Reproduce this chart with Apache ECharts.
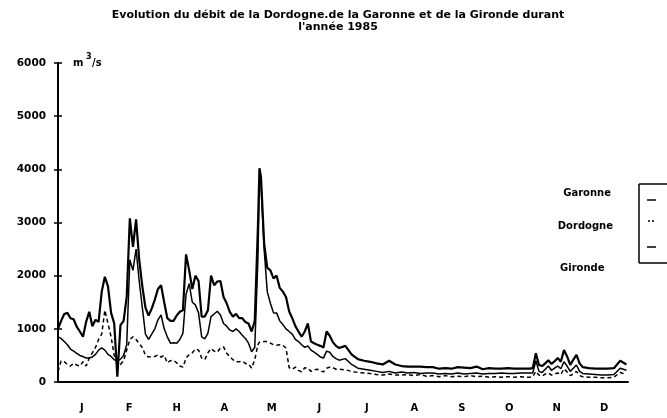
<!DOCTYPE html>
<html>
<head>
<meta charset="utf-8">
<script src="https://cdn.jsdelivr.net/npm/echarts@6/dist/echarts.min.js"></script>
<style>
  html, body { margin: 0; padding: 0; background: #fff; }
  #chart { width: 667px; height: 418px; }
</style>
</head>
<body>
<div id="chart"></div>
<script>
// jour de l'année (0 = 1er janvier)
var days = [
  0, 2, 4, 6, 8, 10, 12, 14, 16, 18, 20, 22, 24, 26, 28, 30,
  32, 34, 36, 38, 40, 42, 44, 46, 48, 50, 52, 54, 56, 58,
  60, 62, 64, 66, 68, 70, 72, 74, 76, 78, 80, 82, 84, 86, 88, 90,
  92, 94, 96, 98, 100, 102, 104, 106, 108, 110, 112, 114, 116, 118, 120, 122, 124, 126, 128,
  129,
  130, 132, 134, 136, 138, 140, 142, 144, 146, 148, 150, 152, 154, 156, 158, 160, 162, 164, 166, 168, 170, 172, 174, 176, 178, 180,
  184, 188, 192, 196, 200, 204, 208, 212, 216, 220, 224, 228, 232, 236, 240, 244, 248, 252, 256, 260, 264, 268, 272, 276, 280, 284, 288, 292, 296, 300,
  302, 304, 306, 308, 310, 312, 314, 316, 318, 320, 322, 324, 326, 328, 330, 332, 334, 336,
  340, 344, 348, 352, 356, 360, 364
];

// débits en m3/s
var gironde = [
  1000, 1150, 1280, 1300, 1200, 1180, 1040, 950, 850, 1130, 1320, 1050, 1170, 1130, 1700, 1980,
  1800, 1300, 1100, 100, 1070, 1150, 1600, 3080, 2540, 3060, 2300, 1800, 1400, 1250,
  1380, 1550, 1750, 1820, 1500, 1200, 1150, 1150, 1250, 1320, 1350, 2400, 2100, 1750, 2000, 1900,
  1230, 1230, 1350, 2000, 1820, 1890, 1900, 1600, 1480, 1320, 1230, 1280, 1200, 1200, 1130, 1100, 950, 1150, 2900,
  4020,
  3850, 2600, 2150, 2100, 1950, 2000, 1770, 1700, 1600, 1330, 1200, 1050, 950, 850, 950, 1100, 760, 730, 700, 680, 650, 950, 870, 750, 680, 640,
  680, 520, 430, 400, 380, 350, 330, 400, 330, 300, 290, 290, 290, 280, 280, 250, 260, 250, 280, 270, 260, 290, 240, 260, 250, 250, 260, 250, 250, 250,
  250, 260, 540, 320, 300, 350, 410, 340, 390, 450, 380, 600, 480, 320, 420, 510, 350, 280,
  260, 250, 250, 250, 260, 400, 330
];

var garonne = [
  850, 820, 760, 700, 620, 580, 540, 500, 480, 450, 450, 470, 520, 600, 640, 600,
  520, 480, 420, 400, 430, 500, 700, 2300, 2100, 2500, 1900, 1400, 900, 800,
  900, 1000, 1170, 1260, 1000, 850, 730, 740, 730, 800, 920, 1650, 1850, 1500, 1450, 1300,
  850, 810, 920, 1230, 1280, 1330, 1260, 1100, 1050, 980, 950, 1000, 950, 880, 820, 730, 570, 650, 2300,
  3860,
  3700, 2500, 1700, 1480, 1300, 1300, 1150, 1080, 1000, 950, 900, 800, 760, 700, 650, 680, 600, 560, 520, 470, 450, 580, 560, 480, 440, 410,
  440, 330, 260, 240, 220, 200, 180, 200, 170, 190, 170, 180, 160, 170, 170, 150, 160, 150, 170, 150, 160, 170, 150, 160, 160, 170, 160, 160, 170, 170,
  170, 170, 400, 200, 180, 240, 300, 220, 260, 300, 250, 380, 300, 200, 260, 320, 200, 160,
  150, 140, 130, 130, 140, 260, 220
];

var dordogne = [
  200, 400, 380, 330, 300, 350, 320, 300, 380, 300, 450, 550, 650, 800, 900, 1350,
  1100, 850, 500, 350, 330, 400, 600, 800, 850, 800, 720, 650, 500, 470,
  480, 480, 510, 470, 500, 360, 400, 410, 360, 300, 280, 450, 520, 550, 620, 600,
  450, 420, 550, 630, 580, 560, 640, 660, 540, 480, 420, 380, 380, 390, 350, 340, 260, 420, 700,
  750,
  760, 760, 760, 730, 700, 690, 700, 690, 640, 270, 240, 280, 220, 190, 270, 260, 200, 230, 240, 210, 190, 260, 280, 270, 240, 240,
  230, 200, 180, 170, 160, 140, 130, 150, 130, 130, 140, 120, 140, 110, 120, 100, 120, 100, 110, 100, 120, 100, 110, 90, 100, 90, 100, 90, 100, 90,
  90, 100, 200, 130, 110, 150, 170, 130, 150, 170, 140, 250, 190, 120, 150, 200, 120, 100,
  90, 90, 80, 80, 90, 180, 140
];

var months = ['J', 'F', 'H', 'A', 'M', 'J', 'J', 'A', 'S', 'O', 'N', 'D'];

function pairs(vals) {
  return days.map(function (d, i) { return [d, vals[i]]; });
}

var font = 'DejaVu Sans';
var chart = echarts.init(document.getElementById('chart'));

var option = {
  backgroundColor: '#fff',
  animation: false,
  title: {
    text: "Evolution du débit de la Dordogne.de la Garonne et de la Gironde durant\nl'année 1985",
    left: 333,
    top: 4,
    textAlign: 'center',
    textStyle: { fontFamily: font, fontSize: 11, fontWeight: 'bold', color: '#000', lineHeight: 12 }
  },
  grid: { left: 58, right: 39, top: 63, bottom: 36 },
  xAxis: [
    // échelle en jours pour les courbes
    { type: 'value', min: 0, max: 365, show: false },
    // mois : graduations et lettres
    {
      type: 'category', data: months, position: 'bottom', boundaryGap: true,
      axisLine: { lineStyle: { color: '#000', width: 2 } },
      axisTick: { length: 4, lineStyle: { color: '#000', width: 1.5 } },
      axisLabel: { margin: 21, color: '#000', fontFamily: font, fontSize: 10, fontWeight: 'bold' },
      splitLine: { show: false }
    },
    {
      type: 'category', data: months, position: 'bottom', boundaryGap: true,
      axisLine: { show: false },
      axisTick: { inside: true, length: 4, lineStyle: { color: '#000', width: 1.5 } },
      axisLabel: { show: false }
    }
  ],
  yAxis: [
    {
      type: 'value', min: 0, max: 6000, interval: 1000,
      axisLine: { show: true, lineStyle: { color: '#000', width: 2 } },
      axisTick: { show: true, length: 4, lineStyle: { color: '#000', width: 1.5 } },
      axisLabel: {
        margin: 12, color: '#000', fontFamily: font, fontSize: 10.5, fontWeight: 'bold',
        formatter: function (v) { return String(v); }
      },
      splitLine: { show: false }
    },
    {
      type: 'value', min: 0, max: 6000, interval: 1000, position: 'left',
      axisLine: { show: false },
      axisTick: { show: true, inside: true, length: 4, lineStyle: { color: '#000', width: 1.5 } },
      axisLabel: { show: false },
      splitLine: { show: false }
    }
  ],
  series: [
    {
      name: 'Dordogne', type: 'line', data: pairs(dordogne), showSymbol: false,
      lineStyle: { color: '#000', width: 1.5, type: [4, 3] }, z: 2
    },
    {
      name: 'Garonne', type: 'line', data: pairs(garonne), showSymbol: false,
      lineStyle: { color: '#000', width: 1.5 }, z: 3
    },
    {
      name: 'Gironde', type: 'line', data: pairs(gironde), showSymbol: false,
      lineStyle: { color: '#000', width: 2.2 }, z: 4
    }
  ],
  graphic: [
    // unité
    { type: 'text', left: 73, top: 58, style: { text: 'm', font: 'bold 10px DejaVu Sans', fill: '#000' } },
    { type: 'text', left: 86, top: 53, style: { text: '3', font: 'bold 8px DejaVu Sans', fill: '#000' } },
    { type: 'text', left: 92, top: 58, style: { text: '/s', font: 'bold 10px DejaVu Sans', fill: '#000' } },
    // légende
    { type: 'text', x: 611, y: 193, style: { text: 'Garonne', font: 'bold 10px DejaVu Sans', fill: '#000', align: 'right', verticalAlign: 'middle' } },
    { type: 'text', x: 613, y: 226, style: { text: 'Dordogne', font: 'bold 10px DejaVu Sans', fill: '#000', align: 'right', verticalAlign: 'middle' } },
    { type: 'text', x: 560, y: 268, style: { text: 'Gironde', font: 'bold 10px DejaVu Sans', fill: '#000', align: 'left', verticalAlign: 'middle' } },
    { type: 'line', shape: { x1: 639, y1: 184, x2: 639, y2: 263 }, style: { stroke: '#000', lineWidth: 1.5 } },
    { type: 'line', shape: { x1: 639, y1: 184, x2: 667, y2: 184 }, style: { stroke: '#000', lineWidth: 1.5 } },
    { type: 'line', shape: { x1: 639, y1: 263, x2: 667, y2: 263 }, style: { stroke: '#000', lineWidth: 1.5 } },
    { type: 'line', shape: { x1: 647, y1: 200, x2: 656, y2: 200 }, style: { stroke: '#000', lineWidth: 1.5 } },
    { type: 'line', shape: { x1: 648, y1: 221, x2: 654, y2: 221 }, style: { stroke: '#000', lineWidth: 1.5, lineDash: [2, 2] } },
    { type: 'line', shape: { x1: 647, y1: 247, x2: 656, y2: 247 }, style: { stroke: '#000', lineWidth: 1.5 } }
  ]
};

chart.setOption(option);
</script>
</body>
</html>
